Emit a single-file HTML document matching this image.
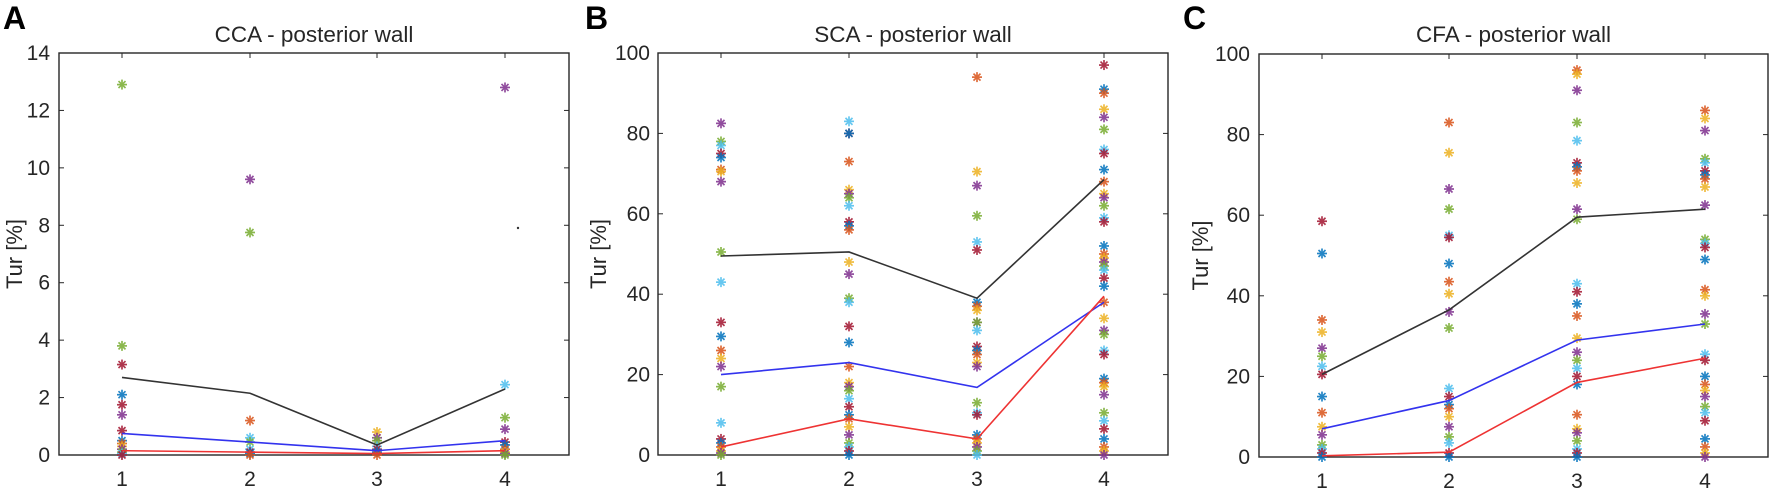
<!DOCTYPE html>
<html><head><meta charset="utf-8"><style>
html,body{margin:0;padding:0;background:#fff;width:1772px;height:490px;overflow:hidden}
svg text{font-family:"Liberation Sans",sans-serif;fill:#262626}
</style></head><body>
<svg id="s" width="1772" height="490" xmlns="http://www.w3.org/2000/svg"></svg>
<script>
const C=["#0072BD","#D95319","#EDB120","#7E2F8E","#77AC30","#4DBEEE","#A2142F"];
const panels=[
{L:59,R:569,T:53,B:455,xs:[122,250,377,505],ymax:14,yt:[0,2,4,6,8,10,12,14],title:"CCA - posterior wall",letter:"A",lx:3,ylx:22,tlx:50,
pts:[[[12.9,4],[3.8,4],[3.15,6],[2.1,0],[1.75,6],[1.4,3],0.85,0.5,0.4,0.3,0.2,0.1,0.05,0],[[9.6,3],[7.75,4],[1.2,1],[0.6,5],0.45,0.2,0.1,0.05,0],[0.8,0.6,0.5,0.3,0.2,0.1,0],[[12.8,3],[2.45,5],[1.3,4],[0.9,3],0.45,0.35,0.2,0.1,0.05,0]],
lines:[["#333",[2.7,2.15,0.35,2.3]],["#3333ee",[0.75,0.45,0.15,0.5]],["#ee3333",[0.15,0.1,0.05,0.15]]]},
{L:658,R:1168,T:53,B:455,xs:[721,849,977,1104],ymax:100,yt:[0,20,40,60,80,100],title:"SCA - posterior wall",letter:"B",lx:585,ylx:606,tlx:650,
pts:[[82.5,78,77,75,74,71,70.5,68,50.5,43,33,29.5,26,24,22,17,8,4,3,2,1,0.5,0],[83,80,80,73,66,65,64,62,58,57,56,48,45,39,38,32,28,22,18,17,16,14,12,10,9,7,5,3,2,1,0],[94,70.5,67,59.5,53,51,38,37,36,33,33,31,27,26,25,23,22,13,10.5,10,5,4,3,2,1,0],[97,91,90,86,84,81,76,75,71,68,65,64,62,59,58,52,50,49,48,47,46,44,42,38,34,31,30,26,25,19,18,17,15,10.5,8.5,6.5,4,2,1,0]],
lines:[["#333",[49.5,50.5,39,68.5]],["#3333ee",[20,23,16.8,38]],["#ee3333",[2,9,4,39.5]]]},
{L:1259,R:1768,T:54,B:457,xs:[1322,1449,1577,1705],ymax:100,yt:[0,20,40,60,80,100],title:"CFA - posterior wall",letter:"C",lx:1183,ylx:1208,tlx:1250,
pts:[[58.5,50.5,34,31,27,25,22.5,20.5,15,11,7.5,5.5,3,2,1,0],[83,75.5,66.5,61.5,55,54.5,48,43.5,40.5,36,32,17,15,13,12,10,7.5,5,3.5,1,0],[96,95,91,83,78.5,73,72,71,68,61.5,59,43,41,38,35,29.5,26,24,22,20,18,10.5,7,6,4,2,1,0],[86,84,81,74,73,71,70,69,67,62.5,54,53,52,49,41.5,40,35.5,33,25.5,24,20,18,16.5,15,12.5,11,9,4.5,2.5,1,0]],
lines:[["#333",[20.5,36.5,59.5,61.5]],["#3333ee",[7,14,29,33]],["#ee3333",[0.3,1.2,18.5,24.5]]]}
];
let h="";
panels.forEach((p,pi)=>{
 const Y=v=>p.B-(p.B-p.T)*v/p.ymax;
 h+=`<rect x="${p.L}" y="${p.T}" width="${p.R-p.L}" height="${p.B-p.T}" fill="none" stroke="#262626" stroke-width="1.4"/>`;
 p.yt.forEach(v=>{const y=Y(v);h+=`<line x1="${p.L}" x2="${p.L+5}" y1="${y}" y2="${y}" stroke="#262626"/><line x1="${p.R}" x2="${p.R-5}" y1="${y}" y2="${y}" stroke="#262626"/><text x="${p.tlx}" y="${y+7}" font-size="21" text-anchor="end">${v}</text>`});
 p.xs.forEach((x,i)=>{h+=`<line x1="${x}" x2="${x}" y1="${p.B}" y2="${p.B-5}" stroke="#262626"/><line x1="${x}" x2="${x}" y1="${p.T}" y2="${p.T+5}" stroke="#262626"/><text x="${x}" y="${p.B+31}" font-size="21" text-anchor="middle">${i+1}</text>`});
 h+=`<text x="${(p.L+p.R)/2}" y="42" font-size="22.5" text-anchor="middle">${p.title}</text>`;
 h+=`<text x="${p.lx}" y="29" font-size="32" font-weight="bold" style="fill:#000">${p.letter}</text>`;
 h+=`<text transform="translate(${p.ylx},${(p.T+p.B)/2}) rotate(-90)" font-size="22" text-anchor="middle">Tur [%]</text>`;
 let k=pi*3;
 p.pts.forEach((arr,i)=>{const x=p.xs[i];arr.forEach(e=>{let v=e,c=C[k++%7];if(Array.isArray(e)){v=e[0];c=C[e[1]];}const y=Y(v);const r=5,d=3.5;
  h+=`<g stroke="${c}" stroke-width="1.7" opacity="0.85"><line x1="${x-r}" x2="${x+r}" y1="${y}" y2="${y}"/><line x1="${x}" x2="${x}" y1="${y-r}" y2="${y+r}"/><line x1="${x-d}" x2="${x+d}" y1="${y-d}" y2="${y+d}"/><line x1="${x-d}" x2="${x+d}" y1="${y+d}" y2="${y-d}"/></g>`;})});
 p.lines.forEach(([c,vals])=>{h+=`<polyline fill="none" stroke="${c}" stroke-width="1.6" points="${vals.map((v,i)=>p.xs[i]+","+Y(v)).join(" ")}"/>`});
});
h+=`<circle cx="518" cy="228" r="1.2" fill="#333"/>`;
document.getElementById("s").innerHTML=h;
</script>
</body></html>
